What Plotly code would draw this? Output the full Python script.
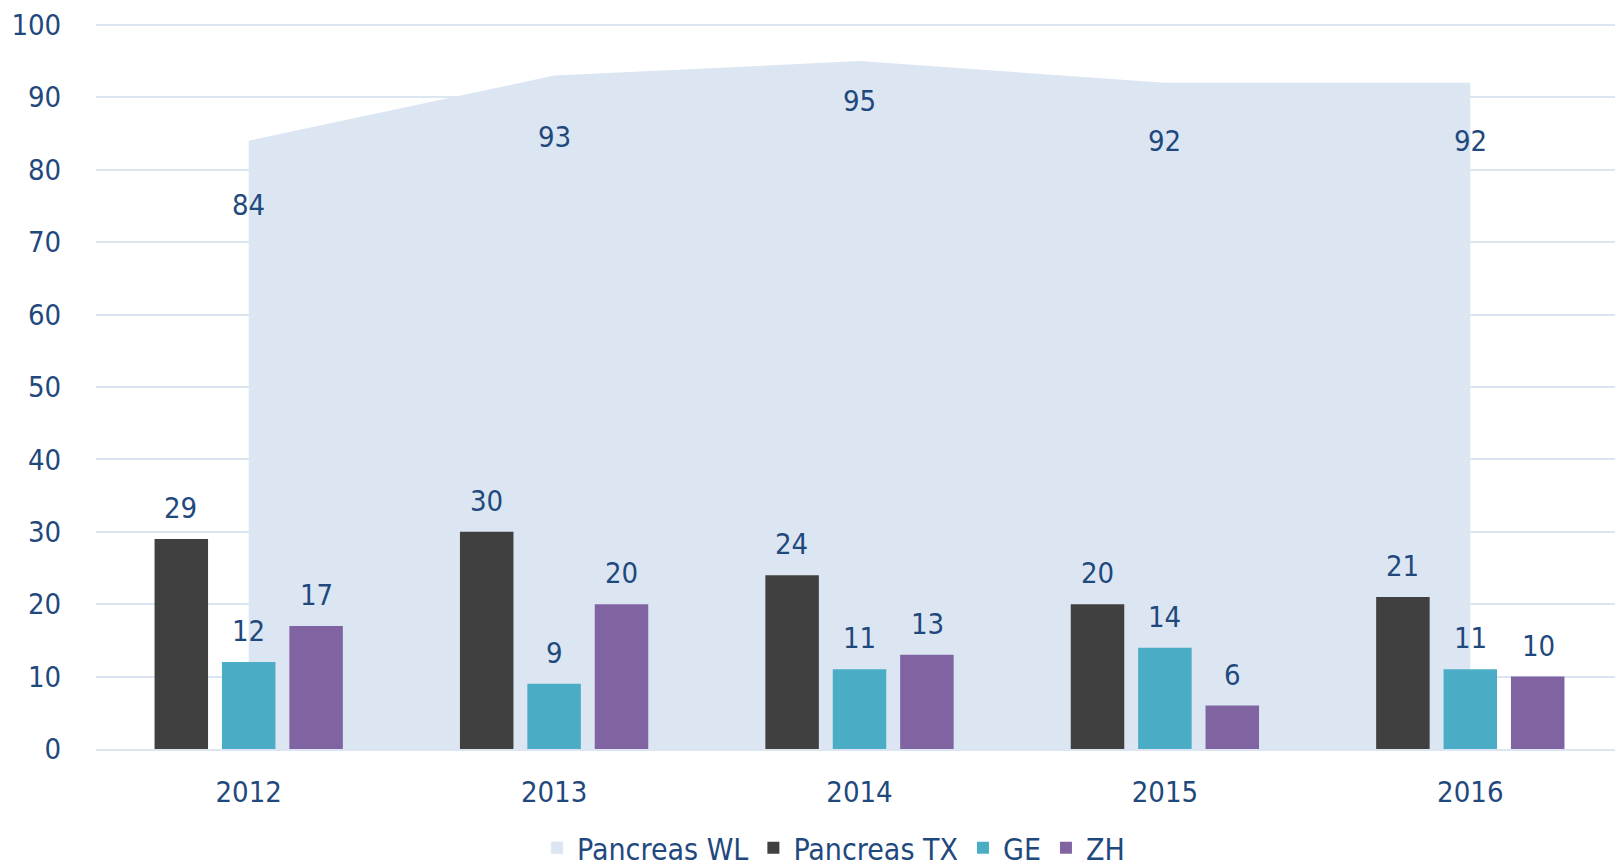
import plotly.graph_objects as go

years = ["2012", "2013", "2014", "2015", "2016"]
wl = [84, 93, 95, 92, 92]
tx = [29, 30, 24, 20, 21]
ge = [12, 9, 11, 14, 11]
zh = [17, 20, 13, 6, 10]
y_ticks = [0, 10, 20, 30, 40, 50, 60, 70, 80, 90, 100]

# style: vertical offsets (px) of the WL value labels
wl_label_shift = [-64, -61, -40, -58, -58]
BAR_SLOT_PX = 67.8      # horizontal distance between bars in a group (px)
BAR_LABEL_SHIFT = 31    # label centre above bar top (px)

FONT = "DejaVu Sans Condensed, Lato, sans-serif"
TXT = "#1F497D"
FS = 29
WL_COL = "#DCE6F2"

fig = go.Figure()
# area on the base axes (drawn below)
fig.add_trace(go.Scatter(
    x=years, y=wl, name="Pancreas WL", mode="none",
    fill="tozeroy", fillcolor=WL_COL, showlegend=False, xaxis="x", yaxis="y",
))
# legend-only square swatch for the area
fig.add_trace(go.Bar(x=[years[0]], y=[None], name="Pancreas WL",
                     marker=dict(color=WL_COL), xaxis="x", yaxis="y"))

series = [("Pancreas TX", tx, "#404040"), ("GE", ge, "#4BACC6"), ("ZH", zh, "#8064A2")]
for k, (name, vals, col) in enumerate(series):
    fig.add_trace(go.Bar(
        x=years, y=vals, name=name, marker=dict(color=col, line=dict(width=0)),
        xaxis="x2", yaxis="y2",
    ))
    for i, v in enumerate(vals):
        fig.add_annotation(x=i, y=v, xref="x2", yref="y2", text=str(v), showarrow=False,
                           xshift=(k - 1) * BAR_SLOT_PX, yshift=BAR_LABEL_SHIFT,
                           font=dict(family=FONT, size=FS, color=TXT))

for i, (v, s) in enumerate(zip(wl, wl_label_shift)):
    fig.add_annotation(x=i, y=v, xref="x", yref="y", text=str(v), showarrow=False, yshift=s,
                       font=dict(family=FONT, size=FS, color=TXT))

fig.update_layout(
    width=1615, height=860,
    margin=dict(l=88, r=0, t=14, b=119, autoexpand=False),
    paper_bgcolor="white", plot_bgcolor="white",
    barmode="group", bargap=0.338, bargroupgap=0.206,
    font=dict(family=FONT, size=FS, color=TXT),
    showlegend=True,
    legend=dict(orientation="h", x=0.483, xanchor="center", y=-0.136, yanchor="middle",
                font=dict(family=FONT, size=30, color=TXT), traceorder="normal"),
    xaxis=dict(type="category", range=[-0.5, 4.5], showgrid=False, showline=True,
               linecolor=WL_COL, linewidth=2, automargin=False,
               tickfont=dict(family=FONT, size=FS, color=TXT), ticks="outside",
               ticklen=16, tickcolor="rgba(0,0,0,0)"),
    yaxis=dict(range=[0, 100.4], tickvals=y_ticks, showgrid=True, gridcolor=WL_COL,
               gridwidth=2, zeroline=False, showline=False, automargin=False,
               tickfont=dict(family=FONT, size=FS, color=TXT), ticks="outside",
               ticklen=28, tickcolor="rgba(0,0,0,0)"),
    xaxis2=dict(type="category", range=[-0.5, 4.5], overlaying="x", visible=False,
                categoryorder="array", categoryarray=years),
    yaxis2=dict(range=[0, 100.4], overlaying="y", visible=False),
)

fig.write_html("out.html")
